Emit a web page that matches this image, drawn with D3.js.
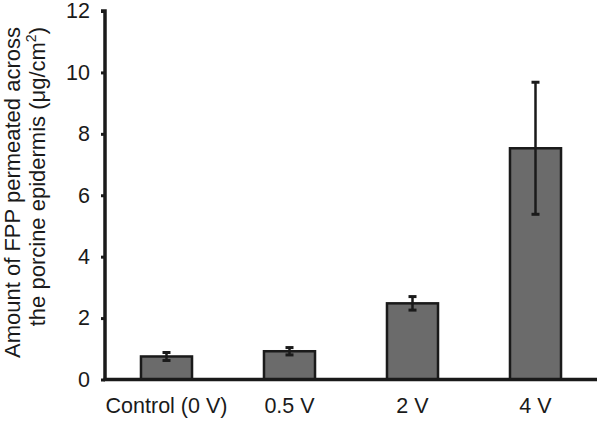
<!DOCTYPE html>
<html><head><meta charset="utf-8">
<script src="https://cdn.jsdelivr.net/npm/d3@7"></script>
<style>body{margin:0;background:#fff}svg{display:block}</style>
</head><body>
<svg id="c" width="600" height="421"></svg>
<script>
const categories = ["Control (0 V)", "0.5 V", "2 V", "4 V"];
const values = [0.75, 0.92, 2.48, 7.53];
const errors = [0.13, 0.12, 0.22, 2.15];
const yTicks = [0, 2, 4, 6, 8, 10, 12];

const svg = d3.select("#c");
const font = "'Liberation Sans', Arial, sans-serif";
const x = d3.scaleBand().domain(categories).range([105, 597]).paddingInner(0.585).paddingOuter(0.2925);
const y = d3.scaleLinear().domain([0, 12]).range([379.5, 11]);

// bars
svg.selectAll("rect.bar").data(values).join("rect")
  .attr("x", (d, i) => x(categories[i]))
  .attr("y", d => y(d))
  .attr("width", x.bandwidth())
  .attr("height", d => y(0) - y(d))
  .attr("fill", "#6b6b6b").attr("stroke", "#1a1a1a").attr("stroke-width", 2.5);

// error bars
const eg = svg.append("g").attr("stroke", "#1a1a1a").attr("stroke-width", 2.5);
values.forEach((v, i) => {
  const cx = x(categories[i]) + x.bandwidth() / 2;
  eg.append("line").attr("x1", cx).attr("x2", cx).attr("y1", y(v + errors[i])).attr("y2", y(v - errors[i]));
  [v + errors[i], v - errors[i]].forEach(e => {
    eg.append("line").attr("x1", cx - 4).attr("x2", cx + 4).attr("y1", y(e)).attr("y2", y(e)).attr("stroke-width", 3);
  });
});

// y axis
const ya = svg.append("g").attr("transform", "translate(105,0)")
  .call(d3.axisLeft(y).tickValues(yTicks).tickSize(4).tickPadding(11).tickFormat(d3.format("d")));
ya.select(".domain").attr("stroke", "#1a1a1a").attr("stroke-width", 3.5).attr("d", `M-4,${y(12)}H0V${y(0)}`);
ya.selectAll(".tick line").attr("stroke", "#1a1a1a").attr("stroke-width", 3);
ya.selectAll("text").attr("font-family", font).attr("font-size", 21.5).attr("fill", "#1a1a1a");

// x axis
const xa = svg.append("g").attr("transform", `translate(0,${y(0)})`)
  .call(d3.axisBottom(x).tickSize(0).tickPadding(18.5));
xa.select(".domain").attr("stroke", "#1a1a1a").attr("stroke-width", 3.5).attr("d", `M103.5,0H597`);
xa.selectAll("text").attr("font-family", font).attr("font-size", 21.5).attr("fill", "#1a1a1a");

// y title
const t = svg.append("text").attr("transform", "translate(19.5,27) rotate(-90)")
  .attr("text-anchor", "end").attr("font-family", font).attr("font-size", 22).attr("fill", "#1a1a1a");
t.append("tspan").attr("x", 0).attr("dy", 0).text("Amount of FPP permeated across");
const t2 = t.append("tspan").attr("x", 0).attr("dy", 25).text("the porcine epidermis (μg/cm");
t.append("tspan").attr("font-size", 14).attr("dy", -9).text("2");
t.append("tspan").attr("dy", 9).text(")");
</script>
</body></html>
